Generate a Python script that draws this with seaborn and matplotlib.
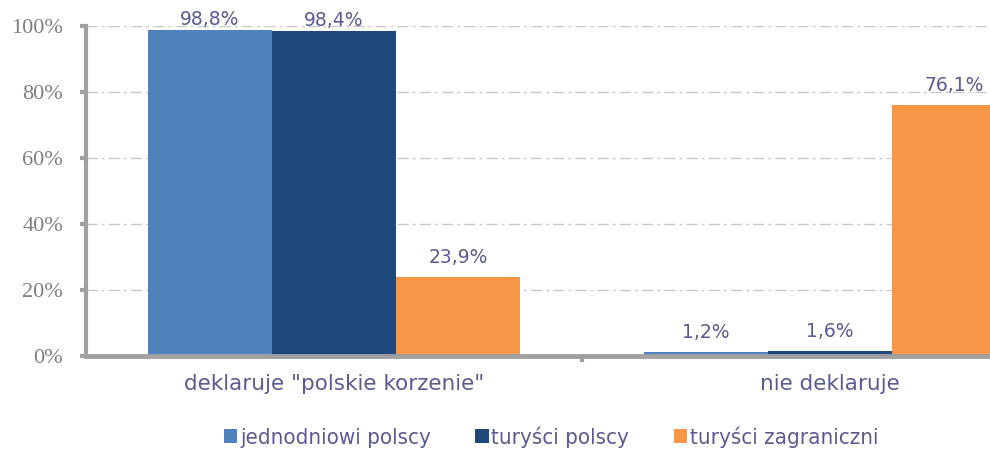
import matplotlib
matplotlib.use("Agg")
import matplotlib.pyplot as plt
import seaborn as sns
import pandas as pd
from matplotlib.patches import Patch

categories = ['deklaruje "polskie korzenie"', 'nie deklaruje']
series = ['jednodniowi polscy', 'turyści polscy', 'turyści zagraniczni']
values_jednodniowi = [98.8, 1.2]
values_turysci_polscy = [98.4, 1.6]
values_turysci_zagr = [23.9, 76.1]
colors = ['#4F81BD', '#1F497D', '#F79646']
yticks = [0, 20, 40, 60, 80, 100]

rows = []
for s, vals in zip(series, [values_jednodniowi, values_turysci_polscy, values_turysci_zagr]):
    for c, v in zip(categories, vals):
        rows.append({'cat': c, 'series': s, 'val': v})
df = pd.DataFrame(rows)

sns.set_theme(style="white")
plt.rcParams['font.family'] = ['DejaVu Sans']

DPI = 100
fig = plt.figure(figsize=(990 / DPI, 449 / DPI), dpi=DPI)
ax = fig.add_axes([86 / 990, 93 / 449, 992 / 990, 330 / 449])

sns.barplot(data=df, x='cat', y='val', hue='series', order=categories,
            hue_order=series, palette=colors, width=0.75, saturation=1,
            linewidth=0, ax=ax, legend=False, errorbar=None)

label_color = '#5B5B93'
for cont in ax.containers:
    anns = ax.bar_label(cont, labels=[f"{v:.1f}%".replace('.', ',') for v in cont.datavalues],
                        padding=7, color=label_color, fontsize=13.5)
    for ann, v in zip(anns, cont.datavalues):
        if v > 90:
            ann.xyann = (0, 1)

ax.set_xlim(-0.5, 1.5)
ax.set_ylim(0, 100)
ax.set_yticks(yticks)
ax.set_yticklabels([f"{t}%" for t in yticks], family=['Liberation Serif', 'DejaVu Serif'],
                   fontsize=16, color='#7F7F7F')
ax.set_xlabel('')
ax.set_ylabel('')
ax.tick_params(axis='x', length=0, pad=13, labelsize=15.5, labelcolor=label_color)
ax.set_xticks([0.5], minor=True)
ax.tick_params(axis='x', which='minor', length=4, width=3, color='#A0A0A0', direction='out', bottom=True)
ax.tick_params(axis='y', length=4.5, width=3, color='#A0A0A0', direction='out', pad=12, left=True)

for side in ['top', 'right']:
    ax.spines[side].set_visible(False)
ax.spines['left'].set_color('#A0A0A0')
ax.spines['left'].set_linewidth(3)
ax.spines['bottom'].set_color('#A0A0A0')
ax.spines['bottom'].set_linewidth(3.5)

ax.yaxis.grid(True, color='#C8C8C8', linewidth=1, linestyle=(0, (8, 3, 2, 3)))
ax.set_axisbelow(True)

handles = [Patch(facecolor=c, edgecolor='none') for c in colors]
fig.legend(handles, series, loc='center', bbox_to_anchor=(551 / 990, 12 / 449), ncol=3,
           frameon=False, handlelength=0.6, handleheight=0.6, handletextpad=0.12,
           columnspacing=2.0, prop={'size': 16, 'stretch': 'condensed'},
           labelcolor=label_color)

fig.savefig('out.png', dpi=DPI)
